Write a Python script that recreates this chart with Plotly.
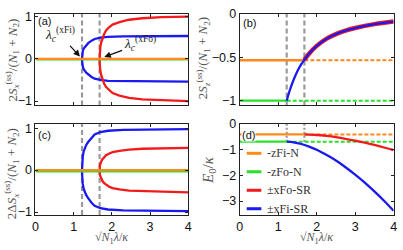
import plotly.graph_objects as go

# ---------------- data ----------------
lam_c_xFi = 1.22
lam_c_xFo = 1.68

# panel (a): 2Sx/(N1+N2)
lam_xFi = [1.22, 1.222, 1.225, 1.23, 1.24, 1.26, 1.29, 1.33, 1.38, 1.47, 1.55, 1.7, 1.9, 2.3, 3.0, 4.0]
a_xFi = [0, 0.06, 0.1, 0.14, 0.18, 0.24, 0.28, 0.33, 0.37, 0.43, 0.47, 0.5, 0.52, 0.53, 0.535, 0.54]
lam_xFo = [1.68, 1.682, 1.685, 1.69, 1.70, 1.72, 1.75, 1.8, 1.85, 1.92, 2.02, 2.2, 2.45, 2.8, 3.3, 4.0]
a_xFo = [0, 0.1, 0.16, 0.22, 0.29, 0.38, 0.48, 0.59, 0.67, 0.74, 0.81, 0.87, 0.925, 0.96, 0.985, 1.0]
a_zFi = 0.0
a_zFo = -0.015

# panel (c): 2 Delta Sx/(N1+N2)
c_xFi = [0, 0.11, 0.18, 0.25, 0.33, 0.44, 0.51, 0.6, 0.67, 0.78, 0.85, 0.91, 0.94, 0.96, 0.97, 0.98]
c_xFo = [0, 0.05, 0.085, 0.12, 0.155, 0.2, 0.255, 0.31, 0.355, 0.39, 0.43, 0.46, 0.49, 0.51, 0.52, 0.53]
c_zFi = 0.0
c_zFo = -0.03

# panel (b): 2Sz/(N1+N2)
lam_b_xFi = [1.22, 1.3, 1.4, 1.5, 1.6, 1.68, 1.8, 2.0, 2.25, 2.5, 2.75, 3.0, 3.5, 4.0]
b_xFi = [-1.0, -0.88, -0.76, -0.66, -0.58, -0.53, -0.46, -0.37, -0.29, -0.235, -0.195, -0.165, -0.12, -0.09]
lam_b_xFo = [1.68, 1.8, 2.0, 2.25, 2.5, 2.75, 3.0, 3.5, 4.0]
b_xFo = [-0.53, -0.46, -0.37, -0.29, -0.235, -0.195, -0.165, -0.12, -0.09]
b_zFi = -0.535
b_zFo = -1.0

# panel (d): E0/kappa
lam_d_xFo = [1.68, 2.0, 2.25, 2.5, 2.75, 3.0, 3.25, 3.5, 3.75, 4.0]
d_xFo = [-0.42, -0.44, -0.476, -0.525, -0.587, -0.658, -0.739, -0.828, -0.925, -1.03]
lam_d_xFi = [1.22, 1.4, 1.6, 1.8, 2.0, 2.25, 2.5, 2.75, 3.0, 3.25, 3.5, 3.75, 4.0]
d_xFi = [-0.70, -0.723, -0.79, -0.89, -1.01, -1.21, -1.43, -1.69, -1.98, -2.29, -2.63, -2.99, -3.38]
d_zFi = -0.42
d_zFo = -0.70

legend_names = ["-zFi-N", "-zFo-N", "±xFo-SR", "±xFi-SR"]
x_ticks = [0, 1, 2, 3, 4]
x_range = [0, 4]
yr_a = [-1.104, 1.068]
yr_b = [-1.055, 0.0]
yr_c = [-1.07, 1.11]
yr_d = [-3.54, 0.0]

# ---------------- styles ----------------
ORANGE = "#FF8A1C"
GREEN = "#2BE02B"
RED = "#F21A1A"
BLUE = "#1A1AF0"
GRAY = "#9A9A9A"
W = 403
H = 250
SERIF = "Liberation Serif"
SANS = "Liberation Sans"

fig = go.Figure()


def branch(lam, vals):
    xs = list(reversed(lam)) + list(lam)
    ys = [-v for v in reversed(vals)] + list(vals)
    return xs, ys


def line(xs, ys, color, width, ax, dash="solid", shape="linear"):
    fig.add_trace(go.Scatter(x=xs, y=ys, mode="lines", xaxis="x" + ax, yaxis="y" + ax,
                             line=dict(color=color, width=width, dash=dash, shape=shape),
                             showlegend=False, hoverinfo="skip"))


def vlines(ax, yr, dash="5px,3px"):
    for lc in (lam_c_xFi, lam_c_xFo):
        line([lc, lc], yr, GRAY, 2.2, ax, dash=dash)


# (a)
vlines("", yr_a)
xs, ys = branch(lam_xFi, a_xFi)
line(xs, ys, BLUE, 2.3, "")
xs, ys = branch(lam_xFo, a_xFo)
line(xs, ys, RED, 2.3, "")
line(x_range, [a_zFo, a_zFo], GREEN, 2.3, "")
line(x_range, [a_zFi, a_zFi], ORANGE, 2.3, "")

# (c)
vlines("3", yr_c)
xs, ys = branch(lam_xFi, c_xFi)
line(xs, ys, BLUE, 2.3, "3")
xs, ys = branch(lam_xFo, c_xFo)
line(xs, ys, RED, 2.3, "3")
line(x_range, [c_zFo, c_zFo], GREEN, 2.3, "3")
line(x_range, [c_zFi, c_zFi], ORANGE, 2.3, "3")

# (b)
vlines("2", yr_b)
line([x_range[0], lam_c_xFi], [b_zFo, b_zFo], GREEN, 2.3, "2")
line([lam_c_xFi, x_range[1]], [b_zFo, b_zFo], GREEN, 2.0, "2", dash="4px,2px")
line([x_range[0], lam_c_xFo], [b_zFi, b_zFi], ORANGE, 2.3, "2")
line([lam_c_xFo, x_range[1]], [b_zFi, b_zFi], ORANGE, 2.0, "2", dash="4px,2px")
line(lam_b_xFo, b_xFo, RED, 4.5, "2", shape="spline")
line(lam_b_xFi, b_xFi, BLUE, 2.3, "2", shape="spline")

# (d)
for lc in (lam_c_xFi, lam_c_xFo):
    line([lc, lc], [yr_d[1], d_zFo], GRAY, 2.2, "4", dash="2px,2px")
line([x_range[0], lam_c_xFi], [d_zFo, d_zFo], GREEN, 2.3, "4")
line([lam_c_xFi, x_range[1]], [d_zFo, d_zFo], GREEN, 2.0, "4", dash="4px,2px")
line([x_range[0], lam_c_xFo], [d_zFi, d_zFi], ORANGE, 2.3, "4")
line([lam_c_xFo, x_range[1]], [d_zFi, d_zFi], ORANGE, 2.0, "4", dash="4px,2px")
line(lam_d_xFo, d_xFo, RED, 2.3, "4", shape="spline")
line(lam_d_xFi, d_xFi, BLUE, 2.3, "4", shape="spline")

# ---------------- axes ----------------
xd_left = [33 / W, 188.5 / W]
xd_right = [241 / W, 397.5 / W]
yd_top = [1 - 103 / H, 1 - 7 / H]
yd_bot = [1 - 217.5 / H, 1 - 122 / H]

common = dict(showline=True, linecolor="#222", linewidth=1, mirror="ticks", ticks="inside",
              ticklen=3, tickcolor="#222", showgrid=False, zeroline=False,
              tickfont=dict(family=SANS, size=12.5, color="#111"))

fig.update_layout(
    width=W, height=H, margin=dict(l=0, r=0, t=0, b=0),
    paper_bgcolor="white", plot_bgcolor="white", showlegend=False,
    xaxis=dict(domain=xd_left, anchor="y", range=x_range, tickvals=x_ticks, showticklabels=False, **common),
    yaxis=dict(domain=yd_top, anchor="x", range=yr_a, tickvals=[-1, 0, 1], **common),
    xaxis2=dict(domain=xd_right, anchor="y2", range=x_range, tickvals=x_ticks, showticklabels=False, **common),
    yaxis2=dict(domain=yd_top, anchor="x2", range=yr_b, tickvals=[-1, -0.5, 0],
                ticktext=["−1", "−0.5", "0"], **common),
    xaxis3=dict(domain=xd_left, anchor="y3", range=x_range, tickvals=x_ticks, **common),
    yaxis3=dict(domain=yd_bot, anchor="x3", range=yr_c, tickvals=[-1, 0, 1], **common),
    xaxis4=dict(domain=xd_right, anchor="y4", range=x_range, tickvals=x_ticks, **common),
    yaxis4=dict(domain=yd_bot, anchor="x4", range=yr_d, tickvals=[-3, -2, -1, 0], **common),
)

# ---------------- text ----------------
ann = []


def ytitle(text, px, py, size=13):
    ann.append(dict(text=text, x=px / W, y=1 - py / H, xref="paper", yref="paper",
                    textangle=-90, showarrow=False, xanchor="center", yanchor="middle",
                    font=dict(family=SERIF, size=size, color="#555")))


ytitle("2<i>S</i><sub><i>x</i></sub><sup>(ss)</sup>/(<i>N</i><sub>1</sub> + <i>N</i><sub>2</sub>)", 9, 55)
ytitle("2Δ<i>S</i><sub><i>x</i></sub><sup>(ss)</sup>/(<i>N</i><sub>1</sub> + <i>N</i><sub>2</sub>)", 9, 174)
ytitle("2<i>S</i><sub><i>z</i></sub><sup>(ss)</sup>/(<i>N</i><sub>1</sub> + <i>N</i><sub>2</sub>)", 203, 53)
ytitle("<i>E</i><sub>0</sub>/<i>κ</i>", 209, 170, size=15)

xt = "√<i>N</i><sub>1</sub><i>λ</i>/<i>κ</i>"
for cx in (110.75, 319.5):
    ann.append(dict(text=xt, x=cx / W, y=1 - 241.5 / H, xref="paper", yref="paper", showarrow=False,
                    xanchor="center", yanchor="middle", font=dict(family=SERIF, size=12, color="#555")))

for lab, px, py, bg in (("(a)", 42.5, 15, None), ("(b)", 251, 16.5, None),
                        ("(c)", 42, 134, None), ("(d)", 250, 134, "white")):
    d = dict(text=lab, x=px / W, y=1 - py / H, xref="paper", yref="paper", showarrow=False,
             xanchor="center", yanchor="middle", font=dict(family=SANS, size=11, color="#111"))
    if bg:
        d["bgcolor"] = bg
        d["borderpad"] = 0
    ann.append(d)

ann.append(dict(text="<i>λ</i><sub><i>c</i></sub><sup>(xFi)</sup>", x=lam_c_xFi, y=0, xref="x", yref="y",
                ax=-22, ay=-24, showarrow=True, arrowhead=2, arrowsize=1, arrowwidth=1.3,
                arrowcolor="#111", standoff=3, font=dict(family=SERIF, size=13.5, color="#222")))
ann.append(dict(text="<i>λ</i><sub><i>c</i></sub><sup>(xFo)</sup>", x=lam_c_xFo, y=0, xref="x", yref="y",
                ax=40, ay=-15, showarrow=True, arrowhead=2, arrowsize=1, arrowwidth=1.3,
                arrowcolor="#111", standoff=5, font=dict(family=SERIF, size=13.5, color="#222")))

# manual legend in panel (d)
shapes = []
leg_colors = [ORANGE, GREEN, RED, BLUE]
leg_rows = [0.675, 0.473, 0.27, 0.068]
for name, col, yy in zip(legend_names, leg_colors, leg_rows):
    shapes.append(dict(type="line", xref="x4 domain", yref="y4 domain", x0=0.045, x1=0.14, y0=yy, y1=yy,
                       line=dict(color=col, width=3)))
    ann.append(dict(text=name, xref="x4 domain", yref="y4 domain", x=0.165, y=yy, showarrow=False,
                    xanchor="left", yanchor="middle", font=dict(family=SERIF, size=12, color="#333")))

fig.update_layout(annotations=ann, shapes=shapes)
fig.write_html("out.html", config={"displayModeBar": False},
               post_script="document.body.style.margin='0';document.body.style.overflow='hidden';")
